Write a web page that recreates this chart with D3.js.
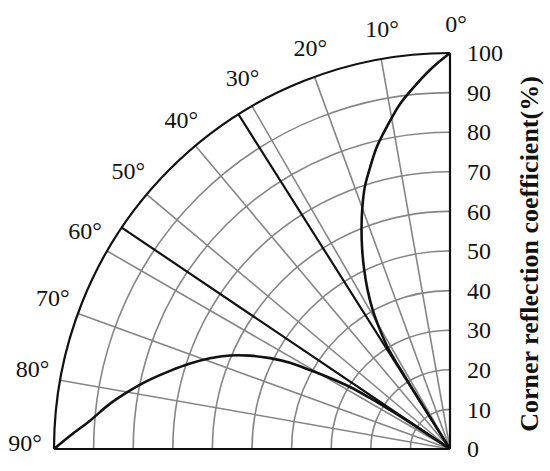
<!DOCTYPE html>
<html lang="en">
<head>
    <meta charset="UTF-8">
    <script src="https://cdn.jsdelivr.net/npm/d3@7"></script>
    <title>Corner reflection coefficient</title>
    <style>
        body {
            margin: 0;
            background: #fff;
        }

        text {
            font-family: 'Liberation Serif', 'Times New Roman', serif;
            fill: #111;
        }

        .grid {
            fill: none;
            stroke: #858585;
            stroke-width: 1.6px;
        }

        .frame {
            fill: none;
            stroke: #111;
            stroke-width: 2.2px;
        }

        .curve {
            fill: none;
            stroke: #111;
            stroke-width: 2.6px;
        }
    </style>
</head>

<body>
    <div class="fig"></div>

    <script>
        // incidence angle (deg) / reflection coefficient (%)
        const curveLow = [
            [0, 100], [2.5, 96.6], [5.2, 92.6], [8.2, 88.1], [11.1, 82.9], [13.6, 78.5],
            [15.8, 74.0], [18.0, 69.6], [20.1, 64.5], [21.9, 59.9], [23.7, 55.2], [25.5, 50.4],
            [27.3, 45.5], [29.0, 40.4], [30.4, 35.1], [31.6, 29.6], [31.85, 23.8], [32.0, 17.9],
            [32.1, 11.9], [32.2, 6.0], [32.2, 0]
        ];
        const curveHigh = [
            [90, 100], [88.0, 96.0], [85.5, 91.2], [82.4, 86.6], [79.6, 82.1], [77.0, 77.8],
            [74.4, 73.4], [71.8, 69.1], [69.3, 64.8], [67.0, 60.4], [65.0, 55.8], [63.2, 50.9],
            [61.7, 45.9], [60.6, 40.6], [59.4, 35.2], [58.2, 29.7], [57.5, 24.0], [57.0, 18.1],
            [56.5, 12.1], [56.2, 6.1], [56, 0]
        ];
        const criticalAngles = [32.3, 56];

        const angleTicks = [0, 10, 20, 30, 40, 50, 60, 70, 80, 90];
        const radiusTicks = [0, 10, 20, 30, 40, 50, 60, 70, 80, 90, 100];
        const axisTitle = "Corner reflection coefficient(%)";

        const width = 550, height = 471;
        const cx = 450, cy = 449, R = 396;

        const svg = d3.select(".fig").append("svg")
            .attr("width", width)
            .attr("height", height);

        const g = svg.append("g").attr("transform", `translate(${cx},${cy})`);

        const rScale = d3.scaleLinear().domain([0, 100]).range([0, R]);
        // angles turn anticlockwise from vertical
        const aScale = d3.scaleLinear().domain([0, 90]).range([0, -Math.PI / 2]);

        const pt = (deg, r) => [r * Math.sin(aScale(deg)), -r * Math.cos(aScale(deg))];

        const arcGen = d3.arc()
            .startAngle(-Math.PI / 2)
            .endAngle(0);

        // concentric gridlines
        g.selectAll(".ring")
            .data(radiusTicks.filter(d => d > 0 && d < 100))
            .enter()
            .append("path")
            .attr("class", "grid")
            .attr("d", d => arcGen({ innerRadius: rScale(d), outerRadius: rScale(d) }));

        // radial gridlines
        g.selectAll(".spoke")
            .data(angleTicks.filter(d => d > 0 && d < 90))
            .enter()
            .append("line")
            .attr("class", "grid")
            .attr("x1", 0).attr("y1", 0)
            .attr("x2", d => pt(d, R)[0])
            .attr("y2", d => pt(d, R)[1]);

        // critical angle lines
        g.selectAll(".crit")
            .data(criticalAngles)
            .enter()
            .append("line")
            .attr("class", "frame")
            .attr("x1", 0).attr("y1", 0)
            .attr("x2", d => pt(d, R)[0])
            .attr("y2", d => pt(d, R)[1]);

        // outer frame
        g.append("path")
            .attr("class", "frame")
            .attr("d", arcGen({ innerRadius: R, outerRadius: R }));
        g.append("line").attr("class", "frame")
            .attr("x1", 0).attr("y1", 0).attr("x2", 0).attr("y2", -R);
        g.append("line").attr("class", "frame")
            .attr("x1", 0).attr("y1", 0).attr("x2", -R).attr("y2", 0);

        const radial = d3.lineRadial()
            .angle(d => aScale(d[0]))
            .radius(d => rScale(d[1]))
            .curve(d3.curveCatmullRom);

        g.selectAll(".curve")
            .data([curveLow, curveHigh])
            .enter()
            .append("path")
            .attr("class", "curve")
            .attr("d", radial);

        // angle labels
        g.selectAll(".alabel")
            .data(angleTicks)
            .enter()
            .append("text")
            .attr("x", d => pt(d - 0.8, 425)[0])
            .attr("y", d => pt(d - 0.8, 425)[1])
            .attr("text-anchor", "middle")
            .attr("dominant-baseline", "central")
            .attr("font-size", 24)
            .text(d => d + "°");

        // right value axis
        const yScale = d3.scaleLinear().domain([0, 100]).range([cy, cy - R]);
        const yAxis = svg.append("g")
            .attr("transform", `translate(${cx},0)`)
            .call(d3.axisRight(yScale).tickValues(radiusTicks).tickSize(0).tickPadding(17));
        yAxis.select(".domain").remove();
        yAxis.selectAll("text")
            .attr("font-size", 24)
            .attr("font-family", "'Liberation Serif', serif")
            .attr("fill", "#111");

        svg.append("text")
            .attr("transform", `translate(538,254) rotate(-90)`)
            .attr("text-anchor", "middle")
            .attr("font-size", 26)
            .attr("font-weight", "bold")
            .text(axisTitle);
    </script>
</body>
</html>
